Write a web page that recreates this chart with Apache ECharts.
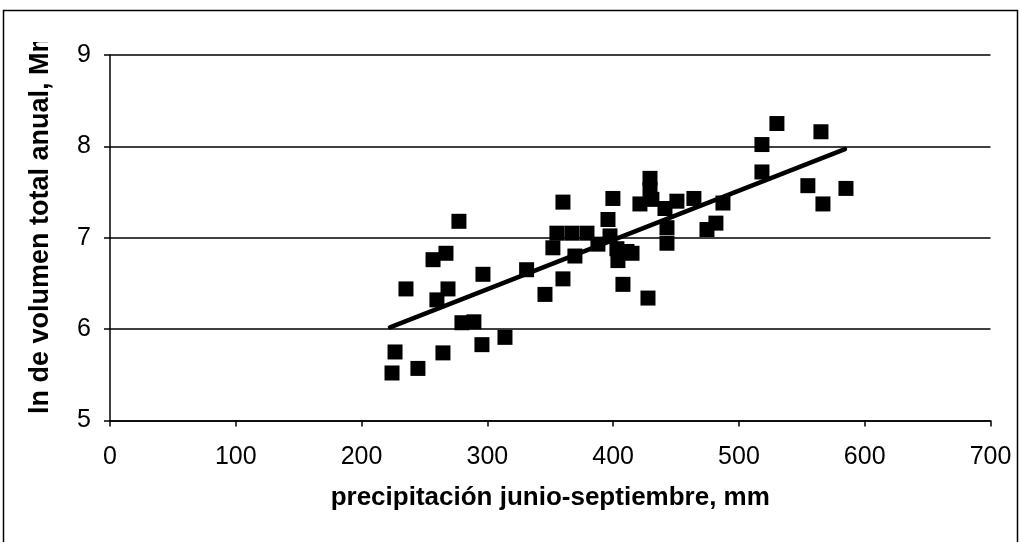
<!DOCTYPE html>
<html>
<head>
<meta charset="utf-8">
<script src="https://cdn.jsdelivr.net/npm/echarts@6/dist/echarts.min.js"></script>
<style>
html,body{margin:0;padding:0;background:#fff;}
#chart{width:1021px;height:542px;}
</style>
</head>
<body>
<div id="chart"></div>
<script>
// precipitation (mm) values
const precip = [224.2,226.6,235.3,244.8,256.8,259.9,264.7,267.1,268.7,277.4,279.8,289.3,295.7,296.5,314.0,331.2,345.8,352.1,355.3,360.1,360.1,367.2,369.6,379.2,387.9,395.9,397.5,399.8,403.0,403.8,407.8,411.0,415.0,421.3,427.7,429.3,429.3,430.8,441.2,442.8,442.8,450.7,464.2,474.6,481.7,487.3,518.3,518.3,530.2,554.8,565.2,566.8,585.1];
// ln of annual total volume
const lnVolume = [5.52,5.75,6.44,5.57,6.76,6.32,5.74,6.83,6.44,7.18,6.07,6.08,5.83,6.60,5.91,6.65,6.38,6.89,7.05,7.39,6.55,7.05,6.80,7.05,6.93,7.20,7.02,7.43,6.88,6.75,6.49,6.85,6.83,7.37,6.34,7.65,7.53,7.42,7.32,7.11,6.94,7.40,7.43,7.09,7.16,7.38,8.02,7.72,8.25,7.57,8.16,7.37,7.54];
// trend line endpoints
const trendX = [222.6, 584.3];
const trendY = [6.02, 7.97];
const xTicks = [0,100,200,300,400,500,600,700];
const yTicks = [5,6,7,8,9];
const xTitle = 'precipitación junio-septiembre, mm';
const yTitle = 'ln de volumen total anual, Mm3';

const points = precip.map((x, i) => [x, lnVolume[i]]);
const trend = trendX.map((x, i) => [x, trendY[i]]);

const chart = echarts.init(document.getElementById('chart'), null, {renderer: 'canvas'});
const font = 'Liberation Sans, Arial, sans-serif';
chart.setOption({
  animation: false,
  backgroundColor: '#fff',
  grid: {left: 110, right: 30.5, top: 55, bottom: 121.5, containLabel: false},
  xAxis: {
    type: 'value', min: xTicks[0], max: xTicks[xTicks.length - 1], interval: 100,
    name: xTitle, nameLocation: 'middle', nameGap: 64,
    nameTextStyle: {fontFamily: font, fontSize: 26, fontWeight: 'bold', color: '#000'},
    axisLine: {show: true, onZero: false, lineStyle: {color: '#000', width: 1.5}},
    axisTick: {show: true, inside: false, length: 6, lineStyle: {color: '#000', width: 1.5}},
    axisLabel: {fontFamily: font, fontSize: 25, color: '#000', margin: 24},
    splitLine: {show: false}
  },
  yAxis: {
    type: 'value', min: yTicks[0], max: yTicks[yTicks.length - 1], interval: 1,
    axisLine: {show: true, onZero: false, lineStyle: {color: '#000', width: 1.5}},
    axisTick: {show: true, inside: false, length: 6, lineStyle: {color: '#000', width: 1.5}},
    axisLabel: {fontFamily: font, fontSize: 25, color: '#000', margin: 19},
    splitLine: {show: true, lineStyle: {color: '#000', width: 1.5}}
  },
  graphic: [
    {type: 'rect', shape: {x: 3.5, y: 10.5, width: 1014, height: 540}, style: {fill: 'none', stroke: '#000', lineWidth: 1.5}, z: 200, silent: true},
    {type: 'text', x: 41, y: 414, rotation: Math.PI / 2,
     style: {text: yTitle, fontFamily: font, fontSize: 27, fontWeight: 'bold', fill: '#000', align: 'left', verticalAlign: 'middle'}, z: 100},
    {type: 'rect', shape: {x: 20, y: 12, width: 45, height: 30}, style: {fill: '#fff'}, z: 150, silent: true}
  ],
  series: [
    {type: 'scatter', data: points, symbol: 'rect', symbolSize: 15,
     itemStyle: {color: '#000', opacity: 1}, z: 3},
    {type: 'line', data: trend, symbol: 'none', showSymbol: false,
     lineStyle: {color: '#000', width: 4.5, cap: 'round'}, z: 4}
  ]
});
</script>
</body>
</html>
